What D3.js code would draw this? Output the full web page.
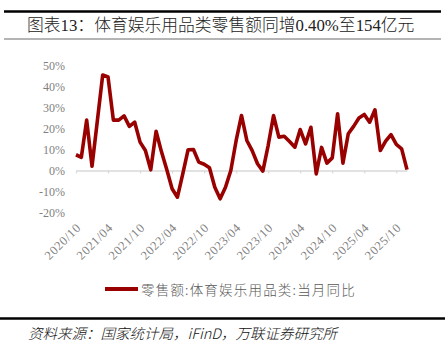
<!DOCTYPE html>
<html>
<head>
<meta charset="utf-8">
<script src="https://cdn.jsdelivr.net/npm/d3@7"></script>
<style>
  body { margin: 0; background: #fff; }
  svg { display: block; }
</style>
</head>
<body>
<div id="chart"></div>
<script>
// months shown on the x axis (one point per month)
var months = [
  "2020/10", "2020/11", "2020/12",
  "2021/01", "2021/02", "2021/03", "2021/04", "2021/05", "2021/06", "2021/07", "2021/08", "2021/09", "2021/10", "2021/11", "2021/12",
  "2022/01", "2022/02", "2022/03", "2022/04", "2022/05", "2022/06", "2022/07", "2022/08", "2022/09", "2022/10", "2022/11", "2022/12",
  "2023/01", "2023/02", "2023/03", "2023/04", "2023/05", "2023/06", "2023/07", "2023/08", "2023/09", "2023/10", "2023/11", "2023/12",
  "2024/01", "2024/02", "2024/03", "2024/04", "2024/05", "2024/06", "2024/07", "2024/08", "2024/09", "2024/10", "2024/11", "2024/12",
  "2025/01", "2025/02", "2025/03", "2025/04", "2025/05", "2025/06", "2025/07", "2025/08", "2025/09", "2025/10", "2025/11", "2025/12"
];

// 零售额:体育娱乐用品类:当月同比 (%)
var yoy = [
  7.5, 6.3, 24.0,
  2.0, 23.7, 45.5, 44.5, 24.0, 24.0, 26.0, 21.0, 23.0, 13.5, 9.5, 0.3,
  18.7, 9.0, 0.5, -8.7, -12.7, -1.6, 9.9, 10.0, 4.0, 3.0, 1.3, -8.0,
  -13.5, -8.0, 0.0, 14.3, 26.2, 14.3, 9.5, 3.2, -0.3, 12.0, 26.2, 15.9,
  16.3, 13.8, 11.1, 19.5, 12.7, 20.6, -1.6, 11.0, 3.5, 6.0, 27.0, 3.5,
  17.5, 21.0, 25.0, 26.7, 23.0, 28.9, 9.5, 14.0, 17.1, 12.4, 10.3, 0.4
];

var yTicks = [-20, -10, 0, 10, 20, 30, 40, 50];
var xTickLabels = ["2020/10", "2021/04", "2021/10", "2022/04", "2022/10", "2023/04",
                   "2023/10", "2024/04", "2024/10", "2025/04", "2025/10"];

var titleText = "图表13：体育娱乐用品类零售额同增0.40%至154亿元";
var legendText = "零售额:体育娱乐用品类:当月同比";
var sourceText = "资料来源：国家统计局，iFinD，万联证券研究所";

var lineColor = "#990000";
var width = 445, height = 352;

var svg = d3.select("#chart").append("svg")
  .attr("width", width)
  .attr("height", height);

// header / footer rules
svg.append("line").attr("x1", 4).attr("x2", 441).attr("y1", 11.5).attr("y2", 11.5)
  .attr("stroke", "#000").attr("stroke-width", 2.5);
svg.append("line").attr("x1", 4).attr("x2", 441).attr("y1", 39).attr("y2", 39)
  .attr("stroke", "#444").attr("stroke-width", 0.8);
svg.append("line").attr("x1", 0).attr("x2", 445).attr("y1", 318.5).attr("y2", 318.5)
  .attr("stroke", "#000").attr("stroke-width", 2.5);

svg.append("text")
  .attr("x", 27).attr("y", 25)
  .attr("dominant-baseline", "central")
  .style("font-family", "'Liberation Serif', 'Noto Sans CJK SC', serif")
  .style("font-size", "16.8px")
  .style("font-weight", 300)
  .style("fill", "#222")
  .text(titleText);

var x = d3.scaleLinear().domain([0, months.length - 1]).range([76, 407]);
var y = d3.scaleLinear().domain([-20, 50]).range([212.5, 65.5]);

// y axis: labels only
var yAxis = svg.append("g")
  .attr("transform", "translate(68,0)")
  .call(d3.axisLeft(y).tickValues(yTicks).tickSize(0).tickPadding(3)
    .tickFormat(function(d) { return d + "%"; }));
yAxis.select(".domain").remove();
yAxis.selectAll("text")
  .style("font-family", "'Liberation Serif', serif")
  .style("font-size", "12px")
  .style("fill", "#7f7f7f");

// x axis sits on the 0% line
var tickIdx = xTickLabels.map(function(l) { return months.indexOf(l); });
var xAxis = svg.append("g")
  .attr("transform", "translate(0," + y(0) + ")")
  .call(d3.axisBottom(x).tickValues(tickIdx).tickSize(3).tickSizeOuter(0)
    .tickFormat(function(i) { return months[i]; }));
xAxis.select(".domain").attr("stroke", "#d9d9d9").attr("stroke-width", 1.5);
xAxis.selectAll(".tick line").attr("stroke", "#d9d9d9").attr("stroke-width", 1.2);
xAxis.selectAll("text")
  .attr("x", 0).attr("y", 0).attr("dy", 0)
  .attr("transform", "translate(5,58) rotate(-45)")
  .style("text-anchor", "end")
  .style("font-family", "'Liberation Serif', serif")
  .style("font-size", "12.5px")
  .style("letter-spacing", "0.6px")
  .style("fill", "#808080");

var valueline = d3.line()
  .x(function(d, i) { return x(i); })
  .y(function(d) { return y(d); });

svg.append("path")
  .datum(yoy)
  .attr("d", valueline)
  .attr("fill", "none")
  .attr("stroke", lineColor)
  .attr("stroke-width", 3.6)
  .attr("stroke-linejoin", "round");

// legend
svg.append("line").attr("x1", 105).attr("x2", 138).attr("y1", 289).attr("y2", 289)
  .attr("stroke", lineColor).attr("stroke-width", 4);
svg.append("text")
  .attr("x", 141).attr("y", 289)
  .attr("dominant-baseline", "central")
  .style("font-family", "'Noto Sans CJK SC', sans-serif")
  .style("font-size", "13.5px")
  .style("font-weight", 300)
  .style("letter-spacing", "1.2px")
  .style("fill", "#595959")
  .text(legendText);

svg.append("text")
  .attr("x", 28).attr("y", 332)
  .attr("dominant-baseline", "central")
  .style("font-family", "'Noto Sans CJK SC', sans-serif")
  .style("font-style", "italic")
  .style("font-weight", 300)
  .style("font-size", "14.5px")
  .style("fill", "#111")
  .text(sourceText);
</script>
</body>
</html>
